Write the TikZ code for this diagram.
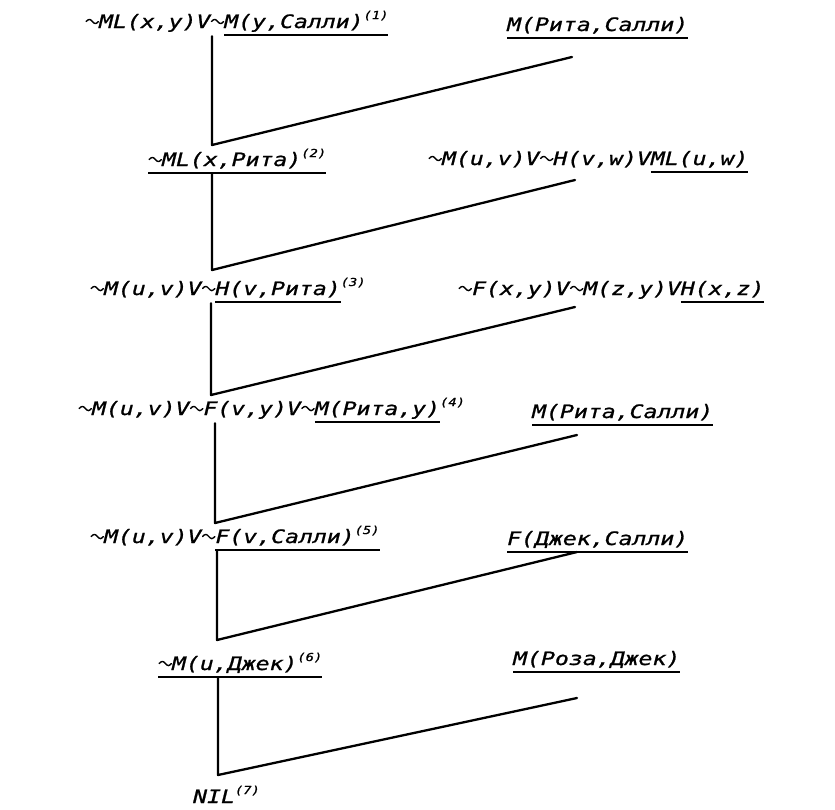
\documentclass[tikz,border=0pt]{standalone}
\usepackage{fontspec}
\newfontfamily\clfont[FakeStretch=1.25,FakeBold=1]{DejaVu Sans Mono}
\newcommand\hl[1]{\setbox0\hbox{#1}\rlap{\rule[-8pt]{\wd0}{2pt}}\box0}
\newcommand\sn[1]{\raisebox{9pt}{\fontsize{11}{11}\selectfont(#1)}}
\newcommand\negt{\tikz[baseline=0pt,x=1pt,y=1pt,line width=1.4pt,line cap=round]{%
  \useasboundingbox (0,0) rectangle (13.9,8);
  \draw (1,6.5) sin (4.2,8.6) cos (7.2,6.5) sin (10.2,4.4) cos (13.2,6.5);}}

\begin{document}
\begin{tikzpicture}[x=1pt,y=-1pt,line cap=round,line join=round,
  clause/.style={anchor=base west,inner sep=0pt,font=\clfont\itshape\fontsize{18.5}{20}\selectfont},
  edge/.style={line width=2.3pt}]
  \useasboundingbox (0,0) rectangle (835,809);
  % left column: derived clauses
  \node[clause] (l1) at (85,28) {\negt ML(x,y)V\negt\hl{M(y,Салли)\sn{1}}};
  \node[clause] (l2) at (148,166) {\hl{\negt ML(x,Рита)\sn{2}}};
  \node[clause] (l3) at (90,295) {\negt M(u,v)V\negt\hl{H(v,Рита)}\sn{3}};
  \node[clause] (l4) at (78,415) {\negt M(u,v)V\negt F(v,y)V\negt\hl{M(Рита,y)}\sn{4}};
  \node[clause] (l5) at (90,543) {\negt M(u,v)V\negt\hl{F(v,Салли)\sn{5}}};
  \node[clause] (l6) at (158,670) {\hl{\negt M(u,Джек)\sn{6}}};
  \node[clause] (l7) at (193,803) {NIL\sn{7}};
  % right column: given clauses
  \node[clause] (r1) at (507,31) {\hl{M(Рита,Салли)}};
  \node[clause] (r2) at (428,165) {\negt M(u,v)V\negt H(v,w)V\hl{ML(u,w)}};
  \node[clause] (r3) at (458,295) {\negt F(x,y)V\negt M(z,y)V\hl{H(x,z)}};
  \node[clause] (r4) at (532,418) {\hl{M(Рита,Салли)}};
  \node[clause] (r5) at (507,545) {\hl{F(Джек,Салли)}};
  \node[clause] (r6) at (513,665) {\hl{M(Роза,Джек)}};
  % resolution steps
  \coordinate (k1) at (212,145);\coordinate (e1) at (572,57);
  \coordinate (k2) at (212,270);\coordinate (e2) at (575,180);
  \coordinate (k3) at (211,395);\coordinate (e3) at (575,307);
  \coordinate (k4) at (215,523);\coordinate (e4) at (577,435);
  \coordinate (k5) at (217,640);\coordinate (e5) at (577,552);
  \coordinate (k6) at (218,775);\coordinate (e6) at (577,698);
  \foreach \i in {1,...,6}{\draw[edge] (k\i|-l\i.south)--(k\i)--(e\i);}
\end{tikzpicture}
\end{document}
